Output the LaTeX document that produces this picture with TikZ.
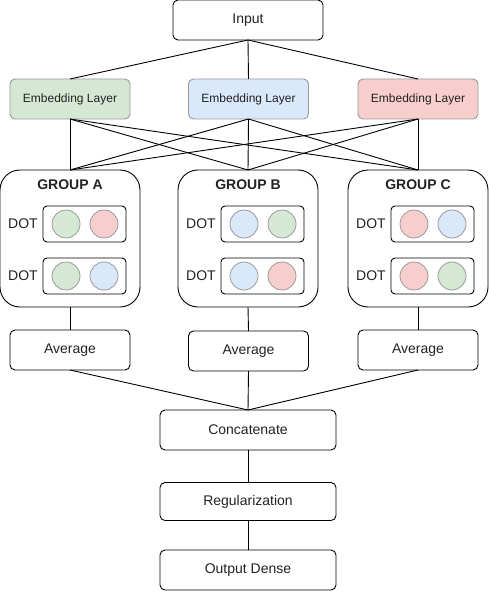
\documentclass[tikz,border=0pt]{standalone}
\usepackage{fontspec}
\setmainfont{Liberation Sans}
\definecolor{cgreen}{HTML}{D5E8D4}
\definecolor{cblue}{HTML}{DAE8FC}
\definecolor{cred}{HTML}{F8CECC}
\definecolor{cborder}{HTML}{999999}
\definecolor{ctext}{HTML}{222222}
\tikzset{
  base/.style={draw=black, line width=0.9pt, inner sep=0pt, outer sep=0pt, text=ctext, font=\fontsize{14}{16}\selectfont},
  plainbox/.style={base, rounded corners=5pt, minimum height=40pt},
  embbox/.style={base, draw=cborder, rounded corners=5pt, minimum width=120pt, minimum height=40pt, font=\fontsize{12}{14}\selectfont},
  groupbox/.style={base, rounded corners=20pt, minimum width=140pt, minimum height=137pt},
  dotbox/.style={base, rounded corners=4pt, minimum width=83pt, minimum height=36pt},
  ball/.style={circle, draw=cborder, line width=0.8pt, minimum size=28pt, inner sep=0pt, outer sep=0pt},
  lbl/.style={inner sep=0pt, text=ctext, font=\fontsize{14}{16}\selectfont},
  ttl/.style={inner sep=0pt, text=ctext, font=\fontsize{14}{16}\selectfont\bfseries},
  link/.style={line width=0.9pt, draw=black}
}
\begin{document}
\begin{tikzpicture}[x=1pt, y=-1pt]
\useasboundingbox (0,0) rectangle (489,591);

\node[plainbox, minimum width=150pt] (input) at (248,20) {Input};

\node[embbox, fill=cgreen] (embA) at (70,99) {Embedding Layer};
\node[embbox, fill=cblue] (embB) at (248.5,99) {Embedding Layer};
\node[embbox, fill=cred] (embC) at (418,99) {Embedding Layer};

% groups
\foreach \g/\l/\t/\ca/\cb/\cc/\cd in {A/0/GROUP A/cgreen/cred/cgreen/cblue, B/178/GROUP B/cblue/cgreen/cblue/cred, C/348/GROUP C/cred/cblue/cred/cgreen}{
  \node[groupbox] (grp\g) at (\l+70,238.5) {};
  \node[ttl] (ttl\g) at (\l+70,185) {\t};
  \node[dotbox] (dbox\g1) at (\l+84.5,224) {};
  \node[dotbox] (dbox\g2) at (\l+84.5,276) {};
  \node[lbl] (dlbl\g1) at (\l+23,224) {DOT};
  \node[lbl] (dlbl\g2) at (\l+23,276) {DOT};
  \node[ball, fill=\ca] (b\g11) at (\l+66,224) {};
  \node[ball, fill=\cb] (b\g12) at (\l+104,224) {};
  \node[ball, fill=\cc] (b\g21) at (\l+66,276) {};
  \node[ball, fill=\cd] (b\g22) at (\l+104,276) {};
}

\node[plainbox, minimum width=120pt] (avgA) at (70,350) {Average};
\node[plainbox, minimum width=120pt] (avgB) at (248.5,351) {Average};
\node[plainbox, minimum width=120pt] (avgC) at (418,350) {Average};

\node[plainbox, minimum width=176pt] (concat) at (248,430) {Concatenate};
\node[plainbox, minimum width=176pt, minimum height=38pt] (reg) at (248,501.5) {Regularization};
\node[plainbox, minimum width=176pt] (out) at (248,570) {Output Dense};

\foreach \e in {embA,embB,embC}{
  \draw[link] (input.south) -- (\e.north);
  \foreach \g in {grpA,grpB,grpC}{
    \draw[link] (\e.south) -- (\g.north);
  }
}
\foreach \g in {A,B,C}{
  \draw[link] (grp\g.south) -- (avg\g.north);
  \draw[link] (avg\g.south) -- (concat.north);
}
\draw[link] (concat.south) -- (reg.north);
\draw[link] (reg.south) -- (out.north);
\end{tikzpicture}
\end{document}
